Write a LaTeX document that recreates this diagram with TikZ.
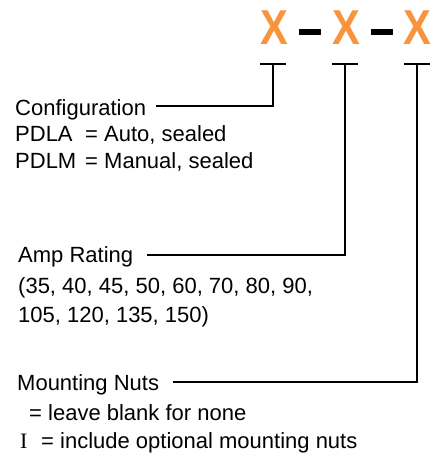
\documentclass[tikz,border=0pt]{standalone}
\usepackage{fontspec}
\setmainfont{Liberation Sans}[BoldFont={Liberation Sans Bold}]
\newfontfamily\serifI{Liberation Serif}
\definecolor{xorange}{RGB}{247,148,60}
\newcommand{\codeX}{\scalebox{0.85}[1]{\bfseries X}}
\tikzset{
  lbl/.style={anchor=base west, inner sep=0pt, font=\fontsize{22}{26}\selectfont},
  code/.style={inner sep=0pt, text=xorange, font=\fontsize{49}{50}\selectfont\bfseries},
  conn/.style={line width=2.6pt, line cap=butt},
  tbar/.style={line width=2.6pt},
  dashbar/.style={fill=black, draw=none}
}
\begin{document}
\begin{tikzpicture}[x=1pt,y=-1pt]
\useasboundingbox (0,0) rectangle (441,465);
% code letters
\node[code] (x1) at (274,27.5) {\codeX};
\node[code] (x2) at (346,27.5) {\codeX};
\node[code] (x3) at (417,27.5) {\codeX};
\fill[dashbar] (299,29.5) rectangle (321,35.5);
\fill[dashbar] (371,29.5) rectangle (393,35.5);
% T bars
\draw[tbar] (260,64) -- (286,64);
\draw[tbar] (332,64) -- (358,64);
\draw[tbar] (404,64) -- (430,64);
\coordinate (t1) at (273,64);
\coordinate (t2) at (345,64);
\coordinate (t3) at (417,64);
% labels
\node[lbl] (cfg) at (15,116) {Configuration};
\node[lbl] (pdla) at (15,142) {PDLA};
\node[lbl] (eqa) at (85,142) {=};
\node[lbl] (auto) at (104,142) {Auto, sealed};
\node[lbl] (pdlm) at (15,168) {PDLM};
\node[lbl] (eqm) at (85,168) {=};
\node[lbl] (man) at (104,168) {Manual, sealed};
\node[lbl] (amp) at (18,262) {Amp Rating};
\node[lbl] (amp1) at (18,293) {(35, 40, 45, 50, 60, 70, 80, 90,};
\node[lbl] (amp2) at (18,322) {105, 120, 135, 150)};
\node[lbl] (mnt) at (17,390) {Mounting Nuts};
\node[lbl] (eqb) at (29,420) {=};
\node[lbl] (blank) at (48,420) {leave blank for none};
\node[lbl] (ii) at (20,448) {\serifI I};
\node[lbl] (eqi) at (41,448) {=};
\node[lbl] (incl) at (60,448) {include optional mounting nuts};
% connectors
\draw[conn] (t1) -- (t1 |- 0,106) -- ([xshift=10pt]cfg.base east |- 0,106);
\draw[conn] (t2) -- (t2 |- 0,255) -- ([xshift=14pt]amp.base east |- 0,255);
\draw[conn] (t3) -- (t3 |- 0,382) -- ([xshift=14pt]mnt.base east |- 0,382);
\end{tikzpicture}
\end{document}
